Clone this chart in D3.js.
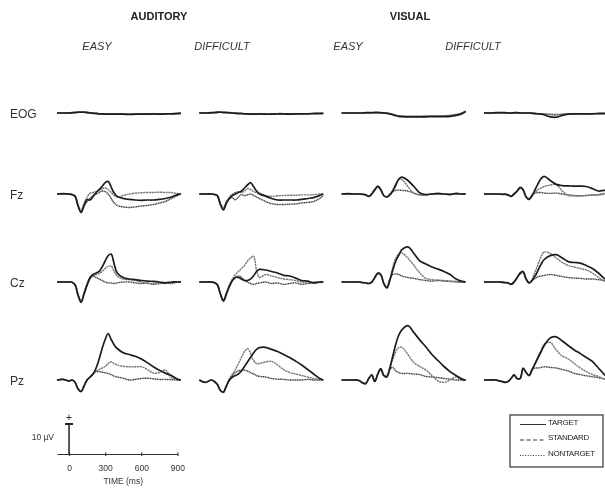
<!DOCTYPE html>
<html>
<head>
<meta charset="utf-8">
<script src="https://cdn.jsdelivr.net/npm/d3@7"></script>
<style>
  body { margin: 0; background: #fff; }
  svg { display: block; font-family: "Liberation Sans", Arial, sans-serif; }
</style>
</head>
<body>
<script>
// ERP grand averages: 4 electrodes x 4 conditions x 3 stimulus types

// time grid (ms) shared by every trace
const times = [-100, -50, 0, 25, 50, 75, 100, 125, 150, 175, 200, 225, 250, 275, 300,
    325, 350, 375, 400, 450, 500, 550, 600, 650, 700, 750, 800, 850, 900, 930];

const modalities = ["AUDITORY", "VISUAL"];
const tasks = ["EASY", "DIFFICULT", "EASY", "DIFFICULT"];
const electrodes = ["EOG", "Fz", "Cz", "Pz"];
const stimuli = ["TARGET", "STANDARD", "NONTARGET"];
const timeTicks = [0, 300, 600, 900];
const barMicroVolts = 10;

// amplitudes in µV, one list per column (aud easy, aud difficult, vis easy, vis difficult)
const eogTarget = [
    [0,0,0,0.1,0.2,0.3,0.3,0.3,0.2,0,-0.1,-0.2,-0.3,-0.3,-0.4,-0.4,-0.4,-0.4,-0.4,-0.4,-0.5,-0.4,-0.4,-0.4,-0.3,-0.4,-0.3,-0.3,-0.2,-0.1],
    [0,0,0.1,0.2,0.3,0.3,0.2,0.2,0.1,0,-0.1,-0.2,-0.2,-0.3,-0.3,-0.4,-0.4,-0.4,-0.3,-0.4,-0.4,-0.3,-0.3,-0.4,-0.3,-0.3,-0.3,-0.2,-0.2,-0.1],
    [0,0,0,0,0,0,0.1,0.1,0.1,0.2,0.2,0.1,0,-0.1,-0.3,-0.6,-0.9,-1.1,-1.2,-1.3,-1.3,-1.3,-1.3,-1.2,-1.2,-1.2,-1.1,-0.8,-0.2,0.5],
    [0,0,0.1,0.1,0.1,0.1,0,0,0.1,0.1,0,0,0,0,-0.1,-0.2,-0.3,-0.4,-0.6,-1.3,-1.4,-0.8,-0.4,-0.3,-0.3,-0.3,-0.3,-0.2,-0.2,-0.1]
];
const eogStandard = [
    [0,0,0,0.1,0.1,0.2,0.2,0.2,0.1,0,-0.1,-0.1,-0.2,-0.3,-0.3,-0.3,-0.3,-0.3,-0.4,-0.3,-0.4,-0.3,-0.4,-0.3,-0.3,-0.3,-0.2,-0.2,-0.1,-0.1],
    [0,0,0.1,0.1,0.2,0.2,0.2,0.1,0.1,0,-0.1,-0.1,-0.2,-0.2,-0.3,-0.3,-0.3,-0.3,-0.3,-0.3,-0.3,-0.3,-0.3,-0.3,-0.3,-0.2,-0.2,-0.2,-0.1,-0.1],
    [0,0,0,0,0,0,0,0.1,0.1,0.1,0.1,0.1,0,-0.1,-0.2,-0.5,-0.8,-1,-1.1,-1.2,-1.2,-1.2,-1.1,-1.1,-1.1,-1,-0.9,-0.6,0,0.6],
    [0,0,0,0.1,0.1,0,0,0,0,0.1,0,0,0,-0.1,-0.1,-0.2,-0.3,-0.3,-0.4,-0.6,-0.7,-0.5,-0.3,-0.3,-0.2,-0.3,-0.2,-0.2,-0.1,-0.1]
];
const eogNontarget = [
    [0,0,0,0,0.1,0.2,0.2,0.2,0.1,0,0,-0.1,-0.2,-0.2,-0.3,-0.3,-0.3,-0.3,-0.3,-0.3,-0.3,-0.3,-0.3,-0.3,-0.3,-0.2,-0.2,-0.2,-0.1,0],
    [0,0,0,0.1,0.1,0.2,0.1,0.1,0,0,-0.1,-0.1,-0.1,-0.2,-0.2,-0.2,-0.3,-0.3,-0.3,-0.3,-0.3,-0.2,-0.2,-0.3,-0.2,-0.2,-0.2,-0.1,-0.1,0],
    [0,0,0,0,0,0,0,0,0.1,0.1,0.1,0.1,0,0,-0.2,-0.4,-0.7,-0.9,-1,-1.1,-1.1,-1.1,-1,-1,-1,-0.9,-0.8,-0.5,0,0.6],
    [0,0,0,0,0.1,0,0,0,0,0,0,0,0,-0.1,-0.1,-0.1,-0.2,-0.3,-0.3,-0.4,-0.5,-0.4,-0.3,-0.2,-0.2,-0.2,-0.2,-0.1,-0.1,0]
];

const fzTarget = [
    [0,0.1,0,-0.2,-0.8,-4,-6.2,-3.8,-1.8,-2,-0.8,0.5,1.5,2.5,3.8,4.2,2.3,0.3,-0.8,-1.5,-1.8,-2,-2.1,-2,-2,-1.8,-1.5,-1,-0.2,0],
    [0,0,0,-0.2,-0.6,-3.5,-5.3,-3,-1.5,-0.5,0,0.5,1,2,3,3.8,2.5,1,0,-0.7,-1.5,-2,-2,-2,-2,-1.8,-1.5,-1.2,-0.5,0],
    [0,0.1,0,0,0,-0.1,-0.3,-0.8,0,1.5,2.6,1.5,-0.5,-1,-0.3,1,3,5,5.6,4.5,2.5,0.3,-0.2,0,0.2,0,-0.2,0.2,0,0],
    [0,0,0,0,-0.1,-0.1,-0.3,-0.8,0,1,2.2,1.5,-1,-1.8,-0.5,1.5,3.5,5.2,5.9,4.5,3.2,2.8,2.7,2.6,2.6,2.5,1.8,1,1.2,1]
];
const fzStandard = [
    [0,0,0,-0.1,-0.6,-3.5,-5.5,-3,-1,0.3,0.5,0.8,1.2,1.8,2,1.5,0.5,-0.5,-1,-0.5,0,0.3,0.4,0.5,0.5,0.6,0.5,0.5,0.2,0],
    [0,0,0,-0.1,-0.5,-3,-4.5,-2.5,-1,0,0.5,0.8,0.5,1,1.8,1.5,0.8,0.5,0.3,-0.5,-0.8,-0.6,-0.5,-0.4,-0.4,-0.3,-0.3,-0.2,0,0],
    [0,0,0,0,0,-0.1,-0.3,-0.8,0,1.3,2.4,1.3,-0.5,-1,-0.3,1.5,3.5,4.8,4.8,2.5,0.3,-0.3,-0.2,0,0,0.1,0,0,0.1,0],
    [0,0,0,0,-0.1,-0.1,-0.3,-0.7,0,0.9,2,1.3,-1,-1.8,-0.5,0.5,1.5,2,2.5,3,3.1,1,-0.5,-0.6,-0.6,-0.5,-0.4,-0.2,0.2,0]
];
const fzNontarget = [
    [0,0,0,-0.2,-0.7,-3.8,-6,-4,-2.5,-1.5,-0.5,0,0.5,1,0.8,0,-1.5,-3,-3.8,-4.3,-4.5,-4.3,-4,-3.8,-3.5,-3,-2.5,-1.5,-0.5,0],
    [0,0,0,-0.1,-0.5,-3.5,-5,-3,-1.5,-1.2,-2,-1,-0.2,-0.5,-0.3,0,-0.5,-1,-1.5,-2.5,-3.2,-3.5,-3.5,-3.4,-3.3,-3,-2.8,-2.5,-1.5,-0.5],
    [0,0,0,0,0,-0.1,-0.2,-0.7,0,1.2,2.3,1.2,-0.5,-1,0,0.8,1.2,1.3,1.2,1,0.3,-0.3,-0.3,0,0,0,-0.1,0,0,0],
    [0,0,0,0,-0.1,0,-0.2,-0.7,0,0.9,2,1.2,-1,-1.5,-0.3,0.3,0.5,0.5,0.3,0.2,0.3,0,-0.3,-0.5,-0.6,-0.5,-0.3,-0.3,0,0]
];

const czTarget = [
    [0,0,0,-0.1,-1,-4.5,-6.8,-4,-1,1.5,2.5,3,3.5,5,7,8.8,9.3,6,3,1.5,1,0.8,0.5,0.3,0.2,0,-0.3,0,0,0],
    [0,0,0,-0.2,-1,-4,-6.3,-4,-1.5,0.5,1.5,1.5,1,0.5,0.5,1,2,3.5,4.2,4,3.5,3,2.2,2,1.3,0.5,0.3,-0.3,0,0],
    [0,0,0,0,0,-0.2,-0.3,-0.5,0,1.5,3,2.5,-0.5,-2,0.5,4,7,9,10.8,11.7,9.5,7,6,5,4.3,3.5,2.5,1,0.2,0],
    [0,0,0,0,-0.1,-0.2,-0.3,-0.8,0,1.5,3,3.5,1,-0.3,0.5,2,4,6,7.5,8.8,9.1,8,6.8,6.5,6.3,5.5,4.5,3,1.2,0.5]
];
const czStandard = [
    [0,0,0,-0.1,-0.8,-4,-6.3,-3.5,-0.5,1.5,2,2.5,2.8,3.5,4.5,5.2,5.3,3.5,2,1,0.8,0.5,0,-0.5,-0.5,-0.3,-0.5,-0.2,0,0],
    [0,0,0,-0.2,-0.8,-4,-6.5,-4,-1,1,2.5,3.5,4.5,5.5,7,8,8.6,4,1.5,2.5,2,1.5,1,0.8,0.5,0,-0.3,0,-0.2,0],
    [0,0,0,0,0,-0.2,-0.3,-0.5,0,1.4,2.8,2.3,-0.5,-2,1,5,8,9.3,9.7,8,5.5,3,1.2,0.8,0.6,0.5,0.3,0.2,0,0],
    [0,0,0,0,-0.1,-0.2,-0.3,-0.7,0,1.4,2.8,3.3,1,-0.3,1,3.5,6,8.5,10,9.5,8,6.5,5.5,5,4.5,4,3,1.6,0.3,0]
];
const czNontarget = [
    [0,0,0,-0.1,-0.9,-4.2,-6.5,-3.8,-1,1,2,1.5,1,0.5,0,-0.3,-0.3,-0.5,-0.3,0,0,-0.3,-0.5,-0.3,-0.8,-0.5,-0.3,-0.5,0,0],
    [0,0,0,-0.2,-0.9,-4,-6,-3.5,-1,0.5,1.5,2,1.5,0.5,0,-0.5,-0.8,-0.5,-0.3,0,-0.5,-0.3,-0.8,-0.5,-0.3,-0.8,-0.5,-0.3,0,0],
    [0,0,0,0,0,-0.2,-0.3,-0.5,0,1.3,2.7,2.2,-0.5,-1.8,1,2.5,2.7,2.5,2,1.5,1.2,0.8,0.5,0.3,0.5,0.3,0.2,0,0,0],
    [0,0,0,0,-0.1,-0.2,-0.3,-0.7,0,1.3,2.7,3,0.8,-0.3,0.5,1.2,1.8,2,2.2,2.5,2.2,1.8,1.5,1.3,1.2,1,1,0.8,0.5,0.3]
];

const pzTarget = [
    [0,0.2,-0.3,0,-0.8,-3,-3.9,-2,0,1,2,4,7,10.5,13.5,15.5,13.5,11.7,10.5,9.1,8.5,7.9,7,5.8,4.4,3.3,2.3,1.5,0.3,0],
    [0,-0.8,0,-0.5,-1.5,-3.5,-4,-2,0,1,1.5,2,3,4.5,6,7.5,9,10.2,10.8,10.9,10.2,9.5,8.5,7.5,6.3,5,3.5,2,0.5,0],
    [0,0,0,0,-0.3,-1,-1.2,0.5,1.7,-0.5,2,3.8,1.5,1,4,8,12,15,16.7,18.1,15.8,13.3,11,8.5,6.5,4.5,2.8,1.5,0.3,0],
    [0,0,0,-0.3,-0.5,-0.8,-0.5,0.5,1.7,0.5,0.5,4,2.5,1.5,3.5,5.5,7.5,9.5,11.5,14,14.4,13,11.5,10,8.8,7.5,6.2,4,1.8,0.8]
];
const pzStandard = [
    [0,0.2,-0.3,0,-0.7,-2.8,-3.8,-2,0,1,2,3,3.5,4,4.5,5.5,6.1,5.5,5,4.6,4.4,4.4,4.4,3.5,2.3,2.5,3.3,0.8,0.2,0],
    [0,-0.8,0,-0.5,-1.5,-3.5,-4.2,-2,0.5,2,3.5,5.5,7.5,9.5,10.5,9,6.5,5.5,5.5,6,6.2,5,3.5,2.5,2,1.5,1,0.5,0.3,0],
    [0,0,0,0,-0.3,-1,-1.2,0.5,1.6,-0.5,2,3.7,1.5,1,4,7,9.5,10.8,10.9,8.5,5.8,4.5,3.3,1.5,-0.3,-0.8,0,1,0,0],
    [0,0,0,-0.3,-0.5,-0.8,-0.5,0.5,1.6,0.5,0.5,3.8,2.5,1.5,3.5,5.5,8,10,12,12.5,10,8,7,5.5,4,2.8,1.8,1.2,0.3,0]
];
const pzNontarget = [
    [0,0.2,-0.3,0,-0.8,-2.9,-3.7,-1.8,0,1,2,2.8,2.8,2.6,2.4,2.2,1.8,1.3,1,0.6,0,0.2,0.5,0.6,0.4,0.2,0.2,0.1,0,0],
    [0,-0.8,0,-0.5,-1.5,-3.5,-4,-2,0,1.5,2.5,3,3.3,3.3,3,2.5,2,1.5,1.2,1,0.5,0.3,0.2,0,0,0,0.2,0,0,0],
    [0,0,0,0,-0.3,-1,-1.1,0.5,1.6,-0.5,1.8,3.6,1.5,1.5,3.5,4.2,3,2.5,2.2,2.2,2,1.8,1.2,1,0.8,0.5,0.3,0,0,0],
    [0,0,0,-0.3,-0.5,-0.8,-0.5,0.5,1.6,0.5,0.5,3.8,2.5,1.5,3.5,4,4,4.2,4.4,4.2,4,3.5,3,2.2,1.8,1.4,1.1,0.8,0.3,0]
];

// rows of traces, in electrode order; each row holds [target, standard, nontarget]
let traceRows = [
    [eogTarget, eogStandard, eogNontarget],
    [fzTarget, fzStandard, fzNontarget],
    [czTarget, czStandard, czNontarget],
    [pzTarget, pzStandard, pzNontarget]
];

// SVG params
let svgWidth = 605;
let svgHeight = 490;

// layout of the panel grid
let rowBaseline = [113, 194, 282, 380];
let panelWidth = 124;
let modalityX = [159, 410];
let taskX = [97, 222, 348, 473];

// line looks for target / standard / nontarget (fine dashes blur to grey in the scan)
let traceStyle = [
    { stroke: "#1e1e1e", width: 1.7, dash: null },
    { stroke: "#777", width: 1.4, dash: "2.2,0.6" },
    { stroke: "#3a3a3a", width: 1.4, dash: "1.2,0.5" }
];

let svg = d3.select("body")
    .append("svg")
    .attr("width", svgWidth)
    .attr("height", svgHeight);

// a touch of blur so it reads like the scanned figure
svg.append("defs").append("filter")
    .attr("id", "scan")
    .append("feGaussianBlur")
    .attr("stdDeviation", 0.35);

let fig = svg.append("g").attr("filter", "url(#scan)");

// scales
let xScale = d3.scaleLinear()
    .domain([-100, 930])
    .range([0, panelWidth]);

// 3 px per µV, positive up
let yScale = d3.scaleLinear()
    .domain([-10, 10])
    .range([30, -30]);

let colScale = d3.scaleLinear()
    .domain([0, 3])
    .range([57, 484]);

let line = d3.line()
    .x((d, i) => xScale(times[i]))
    .y(d => yScale(d))
    .curve(d3.curveCatmullRom.alpha(0.5));

// column headings
fig.selectAll(".modality")
    .data(modalities)
    .enter()
    .append("text")
    .attr("x", (d, i) => modalityX[i])
    .attr("y", 20)
    .attr("text-anchor", "middle")
    .attr("font-size", 11)
    .attr("font-weight", "bold")
    .attr("fill", "#222")
    .text(d => d);

fig.selectAll(".task")
    .data(tasks)
    .enter()
    .append("text")
    .attr("x", (d, i) => taskX[i])
    .attr("y", 50)
    .attr("text-anchor", "middle")
    .attr("font-size", 11)
    .attr("font-style", "italic")
    .attr("fill", "#333")
    .text(d => d);

// electrode labels
fig.selectAll(".electrode")
    .data(electrodes)
    .enter()
    .append("text")
    .attr("x", 10)
    .attr("y", (d, i) => rowBaseline[i] + 2)
    .attr("dominant-baseline", "middle")
    .attr("font-size", 12)
    .attr("fill", "#333")
    .text(d => d);

// waveforms
traceRows.forEach(function(row, r) {
    for (let c = 0; c < tasks.length; c++) {
        let panel = fig.append("g")
            .attr("transform", `translate(${colScale(c)}, ${rowBaseline[r]})`);
        // draw nontarget first so the target sits on top
        [2, 1, 0].forEach(function(k) {
            panel.append("path")
                .datum(row[k][c])
                .attr("d", line)
                .attr("fill", "none")
                .attr("stroke", traceStyle[k].stroke)
                .attr("stroke-width", traceStyle[k].width)
                .attr("stroke-dasharray", traceStyle[k].dash)
                .attr("stroke-linejoin", "round");
        });
    }
});

// calibration: 10 µV bar and time axis
let calX = colScale(0);
let calY = 454;
let cal = fig.append("g").attr("transform", `translate(${calX}, ${calY})`);

let calScale = d3.scaleLinear()
    .domain([-100, 900])
    .range([xScale(-100), xScale(900)]);

cal.append("g")
    .call(d3.axisBottom(calScale)
        .tickValues(timeTicks)
        .tickSizeInner(3)
        .tickSizeOuter(0)
        .tickPadding(8))
    .call(g => g.select(".domain").attr("stroke", "#333").attr("stroke-width", 1.2))
    .call(g => g.selectAll(".tick line").attr("stroke", "#333").attr("stroke-width", 1.2)
        .attr("y1", -1.5).attr("y2", 2))
    .call(g => g.selectAll(".tick text")
        .attr("font-size", 8.5)
        .attr("font-family", "Liberation Sans, Arial, sans-serif")
        .attr("fill", "#333"));

cal.append("line")
    .attr("x1", calScale(0))
    .attr("x2", calScale(0))
    .attr("y1", 0)
    .attr("y2", yScale(barMicroVolts))
    .attr("stroke", "#222")
    .attr("stroke-width", 1.5);

cal.append("line")
    .attr("x1", calScale(0) - 4)
    .attr("x2", calScale(0) + 4)
    .attr("y1", yScale(barMicroVolts))
    .attr("y2", yScale(barMicroVolts))
    .attr("stroke", "#222")
    .attr("stroke-width", 2);

cal.append("text")
    .attr("x", calScale(0))
    .attr("y", yScale(barMicroVolts) - 3)
    .attr("text-anchor", "middle")
    .attr("font-size", 10)
    .attr("fill", "#222")
    .text("+");

cal.append("text")
    .attr("x", calScale(0) - 15)
    .attr("y", yScale(barMicroVolts / 2) + 1)
    .attr("text-anchor", "end")
    .attr("font-size", 8.5)
    .attr("fill", "#333")
    .text(`${barMicroVolts} µV`);

cal.append("text")
    .attr("x", calScale(450))
    .attr("y", 30)
    .attr("text-anchor", "middle")
    .attr("font-size", 8.5)
    .attr("fill", "#333")
    .text("TIME (ms)");

// legend
let legend = fig.append("g").attr("transform", "translate(510, 415)");

legend.append("rect")
    .attr("width", 93)
    .attr("height", 52)
    .attr("fill", "none")
    .attr("stroke", "#444")
    .attr("stroke-width", 1.3);

let legendDash = [null, "4,2.5", "1,1.6"];

let legendItems = legend.selectAll(".item")
    .data(stimuli)
    .enter()
    .append("g")
    .attr("transform", (d, i) => `translate(10, ${9.5 + i * 15.5})`);

legendItems.append("line")
    .attr("x1", 0)
    .attr("x2", 26)
    .attr("stroke", "#333")
    .attr("stroke-width", 1)
    .attr("stroke-dasharray", (d, i) => legendDash[i]);

legendItems.append("text")
    .attr("x", 28)
    .attr("y", 0)
    .attr("font-size", 8)
    .attr("letter-spacing", -0.3)
    .attr("fill", "#222")
    .text(d => d);
</script>
</body>
</html>
